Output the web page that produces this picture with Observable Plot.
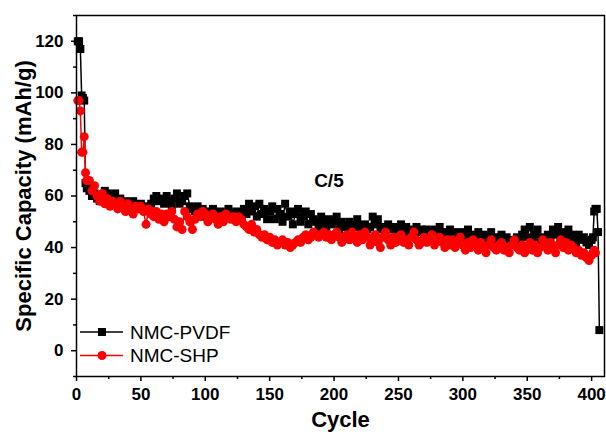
<!DOCTYPE html>
<html><head><meta charset="utf-8">
<script src="https://cdn.jsdelivr.net/npm/d3@7"></script>
<script src="https://cdn.jsdelivr.net/npm/@observablehq/plot@0.6"></script>
<style>body{margin:0;background:#fff;} svg{font-family:"Liberation Sans",Arial,sans-serif;}</style>
</head><body><div id="chart"></div>
<script>
// Cycle numbers: first cycles individually, body every 2 cycles from 10 to 400, last cycles individually
const bodyCycleStart = 10, bodyCycleStep = 2;

const pvdfEarlyCycles = [1,2,3,4,5,6,7,8];
const pvdfEarly = [120,120,117,99,98,97,65,63];
const pvdfBody = [
  62,60,61,59,58,60,62,61,59,60,
  61,58,59,57,58,56,57,58,56,55,
  57,55,56,54,57,59,60,58,59,57,
  60,58,56,59,61,57,58,60,61,56,
  55,54,56,53,55,52,54,53,55,52,
  53,54,52,53,55,53,52,54,53,51,
  55,53,57,54,56,52,57,53,55,51,
  54,56,51,55,53,50,57,52,54,49,
  53,55,50,52,54,49,53,51,50,48,
  52,50,48,51,49,50,52,47,50,49,
  48,50,47,49,51,48,46,49,47,48,
  52,49,51,47,48,46,49,47,48,46,
  47,49,45,48,46,47,45,48,46,47,
  45,47,46,44,47,45,48,44,46,45,
  47,44,46,45,43,46,44,47,43,45,
  44,46,43,45,42,44,46,43,44,42,
  45,43,44,42,43,41,44,42,45,47,
  44,48,43,45,47,42,44,43,45,42,
  47,45,48,44,46,43,47,45,44,42,
  45,43,44,42,41,43
];
const pvdfLateCycles = [401,402,403,404,405,406];
const pvdfLate = [44,54,55,55,46,8];

const shpEarlyCycles = [1,2,3,4,5,6,7,8];
const shpEarly = [97,97,93,77,77,83,69,66];
const shpBody = [
  66,62,64,60,58,61,57,59,56,58,
  57,55,58,56,54,57,55,53,56,55,
  56,54,49,55,53,52,54,51,53,50,
  53,52,54,51,48,50,47,54,52,50,
  47,51,53,52,54,53,50,52,53,51,
  49,52,50,53,52,51,52,50,52,51,
  49,48,47,49,46,47,45,44,45,43,
  44,42,43,41,42,43,41,42,40,41,
  42,43,42,44,45,43,44,46,45,44,
  45,46,44,45,43,45,46,44,42,44,
  45,43,46,44,42,45,43,46,44,41,
  43,45,42,40,44,46,43,41,44,42,
  44,45,42,43,41,44,46,43,41,42,
  44,42,43,45,41,43,44,42,40,43,
  41,43,40,42,44,41,39,42,40,43,
  41,39,42,40,38,41,43,40,39,41,
  42,39,40,38,41,43,40,39,41,38,
  40,42,39,41,38,40,43,41,39,42,
  40,38,41,43,40,42,39,41,40,38,
  39,37,38,36,35,37
];
const shpLateCycles = [401,402,403];
const shpLate = [38,39,38];

const xMajorTicks = [0,50,100,150,200,250,300,350,400];
const xMinorTicks = [25,75,125,175,225,275,325,375];
const yMajorTicks = [0,20,40,60,80,100,120];
const yMinorTicks = [-10,10,30,50,70,90,110,130];
const seriesNames = ["NMC-PVDF","NMC-SHP"];
const seriesColors = ["#000000","#ff0000"];
const seriesSymbols = ["square","circle"];
const rateLabel = "C/5";
const xTitle = "Cycle";
const yTitle = "Specific Capacity (mAh/g)";

function build(name, earlyC, early, body, lateC, late) {
  const rows = [];
  earlyC.forEach((c,i)=>rows.push({series:name, cycle:c, cap:early[i]}));
  body.forEach((v,i)=>rows.push({series:name, cycle:bodyCycleStart+bodyCycleStep*i, cap:v}));
  lateC.forEach((c,i)=>rows.push({series:name, cycle:c, cap:late[i]}));
  return rows;
}
const pvdf = build(seriesNames[0], pvdfEarlyCycles, pvdfEarly, pvdfBody, pvdfLateCycles, pvdfLate);
const shp = build(seriesNames[1], shpEarlyCycles, shpEarly, shpBody, shpLateCycles, shpLate);

const plot = Plot.plot({
  width: 606, height: 432,
  marginLeft: 76, marginRight: 2, marginTop: 15, marginBottom: 56,
  x: {domain: [0, 410], label: null},
  y: {domain: [-10, 130], label: null},
  style: {fontFamily: '"Liberation Sans", Arial, sans-serif', color: "black", background: "white"},
  marks: [
    Plot.axisX({ticks: xMinorTicks, tickSize: 3, text: null, label: null, strokeWidth: 1.5}),
    Plot.axisX({ticks: xMajorTicks, tickSize: 5, tickPadding: 6, fontSize: 17, fontWeight: "bold", label: null, strokeWidth: 1.5}),
    Plot.axisY({ticks: yMinorTicks, tickSize: 3, text: null, label: null, strokeWidth: 1.5}),
    Plot.axisY({ticks: yMajorTicks, tickSize: 5, tickPadding: 8, fontSize: 17, fontWeight: "bold", label: null, strokeWidth: 1.5}),
    Plot.line(pvdf, {x: "cycle", y: "cap", stroke: seriesColors[0], strokeWidth: 1.5}),
    Plot.dot(pvdf, {x: "cycle", y: "cap", symbol: seriesSymbols[0], r: 4.5, fill: seriesColors[0], stroke: "none"}),
    Plot.line(shp, {x: "cycle", y: "cap", stroke: seriesColors[1], strokeWidth: 1.5}),
    Plot.dot(shp, {x: "cycle", y: "cap", symbol: seriesSymbols[1], r: 4.5, fill: seriesColors[1], stroke: "none"}),
    Plot.text([rateLabel], {x: 196, y: 66, fontSize: 19, fontWeight: "bold", fill: "black"}),
    Plot.text([xTitle], {frameAnchor: "bottom", dy: 43, textAnchor: "middle", lineAnchor: "middle", fontSize: 22, fontWeight: "bold", fill: "black"}),
    Plot.text([yTitle], {frameAnchor: "left", dx: -53, textAnchor: "middle", lineAnchor: "middle", rotate: -90, fontSize: 22, fontWeight: "bold", fill: "black"}),
    Plot.frame({stroke: "black", strokeWidth: 1.5})
  ]
});

// Legend inside the plot area, lower left
const svg = d3.select(plot);
const legendRows = [0,1];
legendRows.forEach((i) => {
  const yy = 332 + i * 23.5;
  const g = svg.append("g");
  g.append("line").attr("x1", 80).attr("x2", 123).attr("y1", yy).attr("y2", yy)
    .attr("stroke", seriesColors[i]).attr("stroke-width", 1.5);
  g.append("path").attr("d", d3.symbol(i === 0 ? d3.symbolSquare : d3.symbolCircle, Math.PI * 4.5 * 4.5)())
    .attr("transform", `translate(102,${yy})`).attr("fill", seriesColors[i]);
  g.append("text").attr("x", 130).attr("y", yy).attr("dy", "0.35em")
    .attr("text-anchor", "start").attr("font-size", 19).attr("fill", "black").text(seriesNames[i]);
});

document.getElementById("chart").appendChild(plot);
</script>
</body></html>
